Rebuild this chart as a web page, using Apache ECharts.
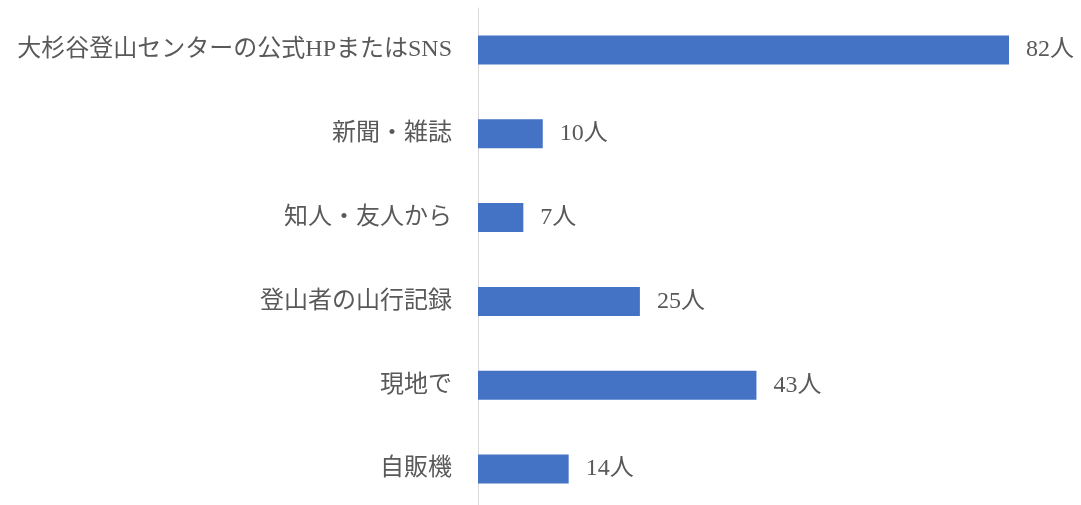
<!DOCTYPE html>
<html>
<head>
<meta charset="UTF-8"/>
<script src="https://cdn.jsdelivr.net/npm/echarts@6/dist/echarts.min.js"></script>
<style type="text/css">
	html, body { margin:0; padding:0; background:#fff; }
	#chart { width:1081px; height:505px; }
</style>
</head>
<body>
<div id="chart"></div>
<script type="text/javascript">
// 認知経路（人数）
var categories = ['大杉谷登山センターの公式HPまたはSNS', '新聞・雑誌', '知人・友人から', '登山者の山行記録', '現地で', '自販機'];
var counts = [82, 10, 7, 25, 43, 14];
var unit = '人';

var fontFamily = "'Liberation Serif', 'Noto Sans CJK JP', serif";
var textColor = '#595959';

var myChart = echarts.init(document.getElementById('chart'));
var option = {
	backgroundColor: '#ffffff',
	animation: false,
	grid: {
		left: 478,
		width: 582.8,
		top: 8,
		height: 503,
		containLabel: false,
		outerBoundsMode: 'none'
	},
	xAxis: {
		type: 'value',
		min: 0,
		max: 90,
		show: false,
		splitLine: { show: false }
	},
	yAxis: {
		type: 'category',
		inverse: true,
		data: categories,
		axisLine: { show: true, lineStyle: { color: '#d9d9d9', width: 1 } },
		axisTick: { show: false },
		axisLabel: {
			margin: 26,
			fontSize: 24,
			color: textColor,
			fontFamily: fontFamily
		}
	},
	series: [{
		type: 'bar',
		data: counts,
		barWidth: 29,
		itemStyle: { color: '#4472C4' },
		label: {
			show: true,
			position: 'right',
			distance: 17,
			fontSize: 24,
			color: textColor,
			fontFamily: fontFamily,
			formatter: function(p){ return p.value + unit; }
		}
	}]
};
myChart.setOption(option);
</script>
</body>
</html>
